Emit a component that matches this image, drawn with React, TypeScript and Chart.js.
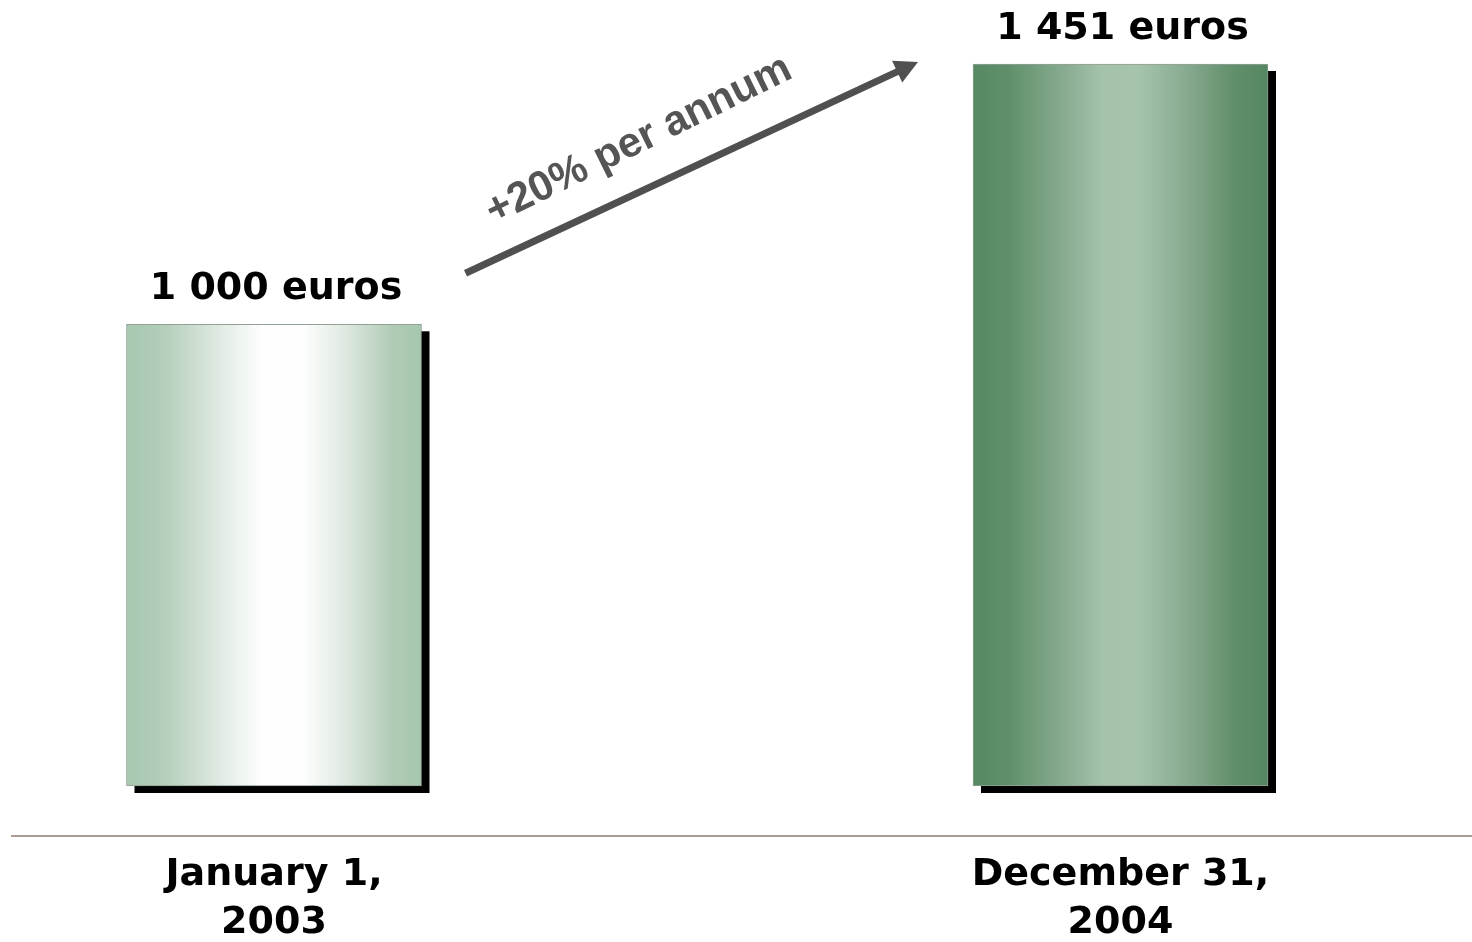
import { useEffect, useRef } from "react";
import { Chart, registerables } from "chart.js";

Chart.register(...registerables);

// Dates shown under each bar (two lines each)
const categories = [
  ["January 1,", "2003"],
  ["December 31,", "2004"],
];
// Amount held at each date, in euros
const values = [1000, 1451];
// Text printed above each bar
const valueLabels = ["1 000 euros", "1 451 euros"];
// Caption along the growth arrow
const growthLabel = "+20% per annum";
// Value the bars grow from and the top of the value axis
const axisBase = 200;
const axisTop = 1451;

// Horizontal gradient stops for each bar (light silver-green, then deeper green)
const barStops: [number, string][][] = [
  [
    [0, "#a8c8b0"],
    [0.12, "#b2cdb8"],
    [0.34, "#e6eee8"],
    [0.46, "#fdfefd"],
    [0.6, "#fdfefd"],
    [0.74, "#dfe9e1"],
    [0.9, "#b0cbb5"],
    [1, "#a7c7af"],
  ],
  [
    [0, "#568a63"],
    [0.12, "#5f906b"],
    [0.3, "#86aa8e"],
    [0.44, "#a5c3ab"],
    [0.56, "#a6c4ac"],
    [0.72, "#88ab90"],
    [0.88, "#628f6c"],
    [1, "#548761"],
  ],
];

const BAR_WIDTH = 295;

const decorations = {
  id: "decorations",
  beforeDatasetsDraw(chart: Chart) {
    // drop shadows behind the bars
    const ctx = chart.ctx;
    const meta = chart.getDatasetMeta(0);
    ctx.save();
    ctx.fillStyle = "#000";
    meta.data.forEach((el: any) => {
      const w = el.width;
      ctx.fillRect(el.x - w / 2 + 8, el.y + 7, w, el.base - el.y);
    });
    ctx.restore();
  },
  afterDraw(chart: Chart) {
    const ctx = chart.ctx;
    const meta = chart.getDatasetMeta(0);
    const area = chart.chartArea;
    const bars: any[] = meta.data as any[];

    // value labels above bars
    ctx.save();
    ctx.fillStyle = "#000";
    ctx.font = "bold 38px 'DejaVu Sans'";
    ctx.textAlign = "center";
    ctx.textBaseline = "alphabetic";
    bars.forEach((el, i) => {
      ctx.fillText(valueLabels[i], el.x + 2, el.y - 25);
    });
    ctx.restore();

    // ground line
    ctx.save();
    ctx.strokeStyle = "#aa9c92";
    ctx.lineWidth = 2;
    ctx.beginPath();
    ctx.moveTo(11, area.bottom + 50);
    ctx.lineTo(chart.width, area.bottom + 50);
    ctx.stroke();
    ctx.restore();

    // growth arrow between the two labels
    const b0 = bars[0];
    const b1 = bars[1];
    const sx = b0.x + b0.width / 2 + 44;
    const sy = b0.y - 51;
    const ex = b1.x - b1.width / 2 - 55;
    const ey = b1.y - 2;
    const ang = Math.atan2(ey - sy, ex - sx);
    const ux = Math.cos(ang);
    const uy = Math.sin(ang);
    const nx = uy;
    const ny = -ux;
    const headLen = 23;
    const headHalf = 12;

    ctx.save();
    ctx.strokeStyle = "#505050";
    ctx.fillStyle = "#505050";
    ctx.lineWidth = 7;
    ctx.beginPath();
    ctx.moveTo(sx, sy);
    ctx.lineTo(ex - ux * (headLen - 2), ey - uy * (headLen - 2));
    ctx.stroke();
    ctx.beginPath();
    ctx.moveTo(ex, ey);
    ctx.lineTo(ex - ux * headLen + nx * headHalf, ey - uy * headLen + ny * headHalf);
    ctx.lineTo(ex - ux * headLen - nx * headHalf, ey - uy * headLen - ny * headHalf);
    ctx.closePath();
    ctx.fill();

    // caption along the arrow
    ctx.translate(sx + ux * 46 + nx * 32, sy + uy * 46 + ny * 32);
    ctx.rotate(ang - 0.02);
    ctx.font = "bold 42px 'Liberation Sans'";
    ctx.fillStyle = "#555555";
    ctx.textAlign = "left";
    ctx.textBaseline = "alphabetic";
    ctx.fillText(growthLabel, 0, 0);
    ctx.restore();
  },
};

export default function App() {
  const canvasRef = useRef<HTMLCanvasElement | null>(null);

  useEffect(() => {
    const canvas = canvasRef.current;
    if (!canvas) return;

    const chart = new Chart(canvas, {
      type: "bar",
      data: {
        labels: categories,
        datasets: [
          {
            data: values,
            base: axisBase,
            barThickness: BAR_WIDTH,
            clip: false,
            borderWidth: 1,
            borderColor: "#93a096",
            borderSkipped: false,
            backgroundColor: (c: any) => {
              const ch = c.chart;
              const xs = ch.scales.x;
              if (!xs || !ch.chartArea) return barStops[c.dataIndex][0][1];
              const cx = xs.getPixelForValue(c.dataIndex);
              const g = ch.ctx.createLinearGradient(cx - BAR_WIDTH / 2, 0, cx + BAR_WIDTH / 2, 0);
              barStops[c.dataIndex].forEach(([o, col]) => g.addColorStop(o, col));
              return g;
            },
          },
        ],
      },
      options: {
        animation: false,
        responsive: false,
        maintainAspectRatio: false,
        layout: { padding: { left: 274, right: 351.5, top: 64, bottom: 0 } },
        plugins: {
          legend: { display: false },
          tooltip: { enabled: false },
        },
        scales: {
          x: {
            type: "category",
            offset: false,
            grid: { display: false, drawTicks: false },
            border: { display: false },
            ticks: {
              color: "#000",
              padding: 66,
              maxRotation: 0,
              autoSkip: false,
              font: { family: "'DejaVu Sans'", weight: "bold", size: 38, lineHeight: 1.24 },
            },
            afterFit: (s: any) => {
              s.height = 156;
            },
          },
          y: {
            display: false,
            beginAtZero: false,
            min: axisBase,
            max: axisTop,
          },
        },
      },
      plugins: [decorations],
    });

    return () => chart.destroy();
  }, []);

  return (
    <div style={{ position: "fixed", left: 0, top: 0, width: 1472, height: 942, background: "#fff" }}>
      <canvas ref={canvasRef} width={1472} height={942} />
    </div>
  );
}
